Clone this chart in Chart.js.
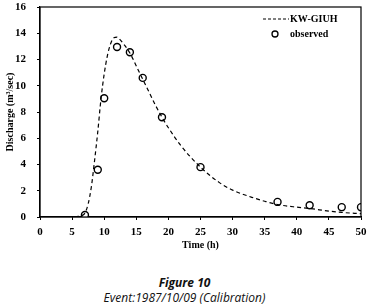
<!DOCTYPE html>
<html>
<head>
<meta charset="utf-8">
<script src="https://cdn.jsdelivr.net/npm/chart.js@4"></script>
<style>
  html, body { margin: 0; padding: 0; background: #fff; }
  #wrap { width: 369px; height: 255px; position: absolute; left: 0; top: 0; }
  .cap { position: absolute; left: 0; width: 369px; text-align: center; font-family: "Open Sans", "Noto Sans", sans-serif; font-style: italic; color: #111; line-height: 14px; font-size: 12px; }
  #fig { font-weight: bold; top: 276px; }
  #evt { top: 291px; }
</style>
</head>
<body>
<div id="wrap"><canvas id="myChart" width="369" height="255"></canvas></div>
<div class="cap" id="fig">Figure 10</div>
<div class="cap" id="evt">Event:1987/10/09 (Calibration)</div>
<script>
// model hydrograph (KW-GIUH)
const modelTime = [0, 5, 6, 6.5, 7, 7.5, 8, 8.5, 9, 9.5, 10, 10.5, 11, 11.5, 12, 12.5, 13, 14, 15, 16, 17, 18, 19, 20, 22, 25, 28, 30, 33, 35, 37, 40, 42, 45, 47, 50];
const modelQ = [0, 0, 0.05, 0.1, 0.3, 1.0, 2.3, 4.3, 6.5, 9.0, 10.9, 12.3, 13.2, 13.65, 13.7, 13.5, 13.2, 12.5, 11.5, 10.5, 9.5, 8.5, 7.6, 6.8, 5.4, 3.8, 2.6, 2.05, 1.5, 1.2, 0.95, 0.75, 0.65, 0.45, 0.35, 0.25];

// observed discharge
const obsTime = [7, 9, 10, 12, 14, 16, 19, 25, 37, 42, 47, 50];
const obsQ = [0.15, 3.6, 9.05, 12.95, 12.55, 10.6, 7.6, 3.8, 1.15, 0.9, 0.75, 0.75];

const xTicks = [0, 5, 10, 15, 20, 25, 30, 35, 40, 45, 50];
const yTicks = [0, 2, 4, 6, 8, 10, 12, 14, 16];

const serif = "'Liberation Serif', 'DejaVu Serif', serif";
const tickFont = { family: serif, size: 11, weight: 'bold' };

// box round the plot + legend in the upper right
const boxAndLegend = {
    id: 'boxAndLegend',
    afterDraw(chart) {
        const ctx = chart.ctx;
        const a = chart.chartArea;
        ctx.save();
        ctx.strokeStyle = '#000';
        ctx.lineWidth = 1.2;
        ctx.strokeRect(a.left, a.top, a.right - a.left, a.bottom - a.top);

        // legend
        const ds = chart.data.datasets;
        ctx.font = "bold 10px " + serif;
        ctx.fillStyle = '#000';
        ctx.textBaseline = 'middle';
        ctx.lineWidth = 1;
        ctx.setLineDash([3, 2]);
        ctx.beginPath();
        ctx.moveTo(263, 19);
        ctx.lineTo(289, 19);
        ctx.stroke();
        ctx.setLineDash([]);
        ctx.fillText(ds[0].label, 290, 19);

        ctx.lineWidth = 1.3;
        ctx.beginPath();
        ctx.arc(275, 34, 3, 0, Math.PI * 2);
        ctx.stroke();
        ctx.fillText(ds[1].label, 290, 34);
        ctx.restore();
    }
};

const myChart = new Chart(document.getElementById('myChart'), {
    type: 'scatter',
    data: {
        datasets: [
            {
                label: 'KW-GIUH',
                type: 'line',
                data: modelTime.map((t, i) => ({ x: t, y: modelQ[i] })),
                borderColor: '#000',
                borderWidth: 1.2,
                borderDash: [4, 3],
                pointRadius: 0,
                fill: false,
                cubicInterpolationMode: 'monotone',
            },
            {
                label: 'observed',
                data: obsTime.map((t, i) => ({ x: t, y: obsQ[i] })),
                pointRadius: 3.5,
                pointBorderWidth: 1.4,
                borderColor: '#000',
                backgroundColor: '#fff',
            }
        ]
    },
    options: {
        responsive: false,
        animation: false,
        layout: { padding: { left: 0, right: 8, top: 7, bottom: 0 } },
        plugins: {
            legend: { display: false },
            tooltip: { enabled: false },
        },
        scales: {
            x: {
                type: 'linear',
                min: 0,
                max: 50,
                afterBuildTicks: (s) => { s.ticks = xTicks.map(v => ({ value: v })); },
                afterFit: (s) => { s.height = 38; s.paddingLeft = 0; s.paddingRight = 0; },
                ticks: { font: tickFont, color: '#000', padding: 6 },
                grid: { drawOnChartArea: false, tickLength: 3, color: '#000' },
                border: { color: '#000', width: 1.2 },
                title: {
                    display: true,
                    text: 'Time (h)',
                    font: { family: serif, size: 10, weight: 'bold' },
                    color: '#000',
                    padding: { top: 2, bottom: 4 },
                },
            },
            y: {
                min: 0,
                max: 16,
                afterBuildTicks: (s) => { s.ticks = yTicks.map(v => ({ value: v })); },
                afterFit: (s) => { s.width = 40; s.paddingTop = 0; s.paddingBottom = 0; },
                ticks: { font: tickFont, color: '#000', padding: 11 },
                grid: { drawOnChartArea: false, tickLength: 3, color: '#000' },
                border: { color: '#000', width: 1.2 },
                title: {
                    display: true,
                    text: 'Discharge (m³/sec)',
                    font: { family: serif, size: 10, weight: 'bold' },
                    color: '#000',
                    padding: { top: 4, bottom: 2 },
                },
            }
        }
    },
    plugins: [boxAndLegend]
});
</script>
</body>
</html>
